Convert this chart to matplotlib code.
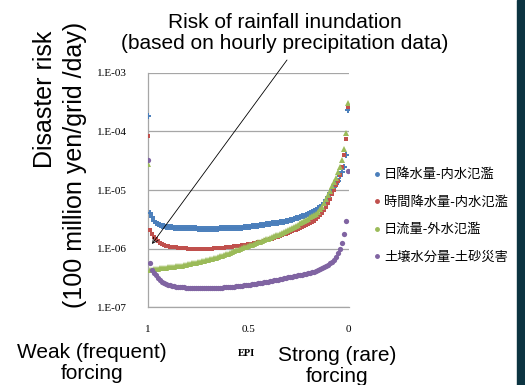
import matplotlib
matplotlib.use("Agg")
import matplotlib.pyplot as plt
from matplotlib.lines import Line2D
from matplotlib.patches import Rectangle

# EPI values, from weak (1) to strong (0) forcing
epi = [1.00, 0.99, 0.98, 0.97, 0.96, 0.95, 0.94, 0.93, 0.92, 0.91,
       0.90, 0.89, 0.88, 0.87, 0.86, 0.85, 0.84, 0.83, 0.82, 0.81,
       0.80, 0.79, 0.78, 0.77, 0.76, 0.75, 0.74, 0.73, 0.72, 0.71,
       0.70, 0.69, 0.68, 0.67, 0.66, 0.65, 0.64, 0.63, 0.62, 0.61,
       0.60, 0.59, 0.58, 0.57, 0.56, 0.55, 0.54, 0.53, 0.52, 0.51,
       0.50, 0.49, 0.48, 0.47, 0.46, 0.45, 0.44, 0.43, 0.42, 0.41,
       0.40, 0.39, 0.38, 0.37, 0.36, 0.35, 0.34, 0.33, 0.32, 0.31,
       0.30, 0.29, 0.28, 0.27, 0.26, 0.25, 0.24, 0.23, 0.22, 0.21,
       0.20, 0.19, 0.18, 0.17, 0.16, 0.15, 0.14, 0.13, 0.12, 0.11,
       0.10, 0.09, 0.08, 0.07, 0.06, 0.05, 0.04, 0.03, 0.02, 0.01,
       0.00]

# risk values in units of 1e-6 (100 million yen/grid/day)
risk_daily_rain = [180,
    4.1, 3.4, 3.0, 2.75, 2.6, 2.5, 2.45, 2.4, 2.37, 2.34,
    2.32, 2.3, 2.29, 2.27, 2.26, 2.25, 2.24, 2.24, 2.23, 2.23,
    2.22, 2.22, 2.21, 2.21, 2.2, 2.2, 2.2, 2.2, 2.2, 2.2,
    2.2, 2.2, 2.2, 2.2, 2.2, 2.21, 2.21, 2.21, 2.22, 2.22,
    2.23, 2.23, 2.24, 2.25, 2.26, 2.27, 2.28, 2.3, 2.31, 2.33,
    2.36, 2.39, 2.42, 2.45, 2.48, 2.51, 2.54, 2.57, 2.6, 2.63,
    2.66, 2.69, 2.72, 2.75, 2.78, 2.82, 2.86, 2.9, 2.95, 3.0,
    3.07, 3.14, 3.21, 3.28, 3.36, 3.45, 3.55, 3.66, 3.78, 3.9,
    4.03, 4.17, 4.32, 4.55, 4.85, 5.2, 5.6, 6.1, 6.8, 7.7,
    8.8, 9.9, 11.2, 12.8, 14.5, 17, 20, 25, 40, 230]

risk_hourly_rain = [82,
    2.1, 1.8, 1.6, 1.45, 1.33, 1.25, 1.2, 1.16, 1.13, 1.1,
    1.08, 1.07, 1.06, 1.05, 1.04, 1.03, 1.02, 1.01, 1.01, 1.0,
    1.0, 1.0, 0.99, 0.99, 0.99, 0.99, 0.99, 0.99, 0.99, 0.99,
    1.0, 1.0, 1.01, 1.01, 1.02, 1.03, 1.03, 1.04, 1.05, 1.06,
    1.07, 1.08, 1.09, 1.1, 1.11, 1.12, 1.14, 1.15, 1.16, 1.18,
    1.2, 1.22, 1.24, 1.26, 1.28, 1.3, 1.32, 1.35, 1.38, 1.41,
    1.44, 1.48, 1.52, 1.56, 1.6, 1.65, 1.7, 1.75, 1.8, 1.86,
    1.92, 1.98, 2.04, 2.11, 2.18, 2.26, 2.34, 2.43, 2.52, 2.62,
    2.73, 2.85, 3.0, 3.2, 3.45, 3.75, 4.1, 4.6, 5.2, 6.0,
    7.1, 8.4, 10, 12, 14.5, 18, 25, 40, 74, 260]

risk_daily_flow = [28,
    0.44, 0.44, 0.445, 0.45, 0.455, 0.46, 0.465, 0.47, 0.475, 0.48,
    0.485, 0.49, 0.495, 0.5, 0.505, 0.51, 0.515, 0.52, 0.53, 0.54,
    0.55, 0.56, 0.57, 0.58, 0.59, 0.6, 0.61, 0.62, 0.63, 0.64,
    0.655, 0.67, 0.685, 0.7, 0.72, 0.74, 0.76, 0.78, 0.8, 0.82,
    0.84, 0.87, 0.9, 0.93, 0.96, 0.99, 1.02, 1.05, 1.08, 1.11,
    1.14, 1.17, 1.2, 1.24, 1.28, 1.32, 1.36, 1.4, 1.44, 1.48,
    1.53, 1.58, 1.63, 1.68, 1.74, 1.8, 1.86, 1.93, 2.0, 2.08,
    2.17, 2.26, 2.36, 2.46, 2.57, 2.69, 2.82, 2.96, 3.1, 3.25,
    3.4, 3.57, 3.75, 3.95, 4.2, 4.7, 5.2, 6.0, 7.0, 8.2,
    9.8, 11.5, 13.5, 16, 20, 25, 33, 50, 93, 300]

risk_soil_water = [33,
    0.57, 0.44, 0.39, 0.35, 0.32, 0.295, 0.275, 0.26, 0.25, 0.242,
    0.236, 0.232, 0.228, 0.225, 0.223, 0.221, 0.219, 0.218, 0.217, 0.216,
    0.215, 0.214, 0.214, 0.213, 0.213, 0.213, 0.213, 0.213, 0.213, 0.213,
    0.213, 0.214, 0.214, 0.215, 0.215, 0.216, 0.217, 0.218, 0.219, 0.22,
    0.222, 0.224, 0.226, 0.228, 0.23, 0.232, 0.234, 0.236, 0.238, 0.24,
    0.243, 0.246, 0.249, 0.252, 0.255, 0.258, 0.262, 0.266, 0.27, 0.274,
    0.278, 0.282, 0.287, 0.292, 0.297, 0.302, 0.308, 0.314, 0.32, 0.327,
    0.33, 0.335, 0.34, 0.345, 0.35, 0.356, 0.362, 0.368, 0.374, 0.38,
    0.387, 0.395, 0.405, 0.415, 0.43, 0.445, 0.46, 0.48, 0.5, 0.53,
    0.56, 0.6, 0.65, 0.71, 0.83, 1.0, 1.27, 1.8, 3.0, 21]

series_labels = ["日降水量-内水氾濫", "時間降水量-内水氾濫",
                 "日流量-外水氾濫", "土壌水分量-土砂災害"]
y_ticks = [1e-7, 1e-6, 1e-5, 1e-4, 1e-3]
y_tick_labels = ["1.E-07", "1.E-06", "1.E-05", "1.E-04", "1.E-03"]
x_ticks = [1, 0.5, 0]
x_tick_labels = ["1", "0.5", "0"]

W, H = 525, 385
fig = plt.figure(figsize=(W / 100, H / 100), dpi=100)
ax = fig.add_axes([148 / W, 1 - 307.3 / H, 201 / W, 234.6 / H])

styles = [
    dict(marker="+", color="#4a7ebb", ms=5.0, mew=1.4),
    dict(marker="s", color="#c0504d", ms=3.5, mew=0),
    dict(marker="^", color="#9bbb59", ms=4.3, mew=0),
    dict(marker="o", color="#8064a2", ms=3.8, mew=0),
]
all_series = [risk_daily_rain, risk_hourly_rain, risk_daily_flow, risk_soil_water]
for vals, st in zip(all_series, styles):
    ax.plot(epi, [v * 1e-6 for v in vals], linestyle="none", zorder=3, **st)

ax.set_yscale("log")
ax.set_ylim(1e-7, 1e-3)
ax.set_xlim(1.0, -0.005)
ax.set_yticks(y_ticks)
ax.set_yticklabels(y_tick_labels, family="Liberation Serif", fontsize=8)
ax.minorticks_off()
ax.set_xticks(x_ticks)
ax.set_xticklabels(x_tick_labels, family="Liberation Serif", fontsize=8)
ax.tick_params(axis="y", length=0, pad=15)
ax.tick_params(axis="x", length=0, pad=13)
ax.grid(axis="y", color="#a6a6a6", lw=0.9)
ax.set_axisbelow(True)
for side in ["top", "right"]:
    ax.spines[side].set_visible(False)
for side in ["left", "bottom"]:
    ax.spines[side].set_color("#a6a6a6")
    ax.spines[side].set_linewidth(0.9)

# arrow from title to hourly-rain curve
ax.annotate("", xy=(0.98, 1.2e-6), xycoords="data",
            xytext=(287 / W, 1 - 60 / H), textcoords="figure fraction",
            arrowprops=dict(arrowstyle="->", color="black", lw=0.6,
                            shrinkA=0, shrinkB=0))

sans = "Liberation Sans"
fig.text(285 / W, 1 - 33 / H,
         "Risk of rainfall inundation\n(based on hourly precipitation data)",
         ha="center", va="center", fontsize=15, family=sans, linespacing=1.15)
fig.text(45 / W, 1 - 99 / H, "Disaster risk", rotation=90,
         ha="center", va="center", fontsize=18, family=sans)
fig.text(75 / W, 1 - 165 / H, "(100 million yen/grid /day)", rotation=90,
         ha="center", va="center", fontsize=18, family=sans)
fig.text(92 / W, 1 - 363 / H, "Weak (frequent)\nforcing",
         ha="center", va="center", fontsize=15, family=sans, linespacing=1.1)
fig.text(337 / W, 1 - 366 / H, "Strong (rare)\nforcing",
         ha="center", va="center", fontsize=15, family=sans, linespacing=1.1)
fig.text(247 / W, 1 - 353 / H, "EPI", ha="center", va="center",
         fontsize=7.5, family="Liberation Serif", weight="bold")

handles = [Line2D([], [], linestyle="none", marker="o", ms=2.5,
                  color=st["color"]) for st in styles]
fig.legend(handles, series_labels, loc="center left",
           bbox_to_anchor=(374 / W, 1 - 216 / H), frameon=False,
           borderpad=0, borderaxespad=0, handlelength=0.5,
           handletextpad=0.25, labelspacing=1.1,
           prop={"family": ["Noto Sans CJK JP", "DejaVu Sans"], "size": 9.5})

fig.patches.append(Rectangle((517 / W, 0), 8 / W, 1, transform=fig.transFigure,
                             color="#0c3441", zorder=5))

fig.savefig("out.png", dpi=100)
